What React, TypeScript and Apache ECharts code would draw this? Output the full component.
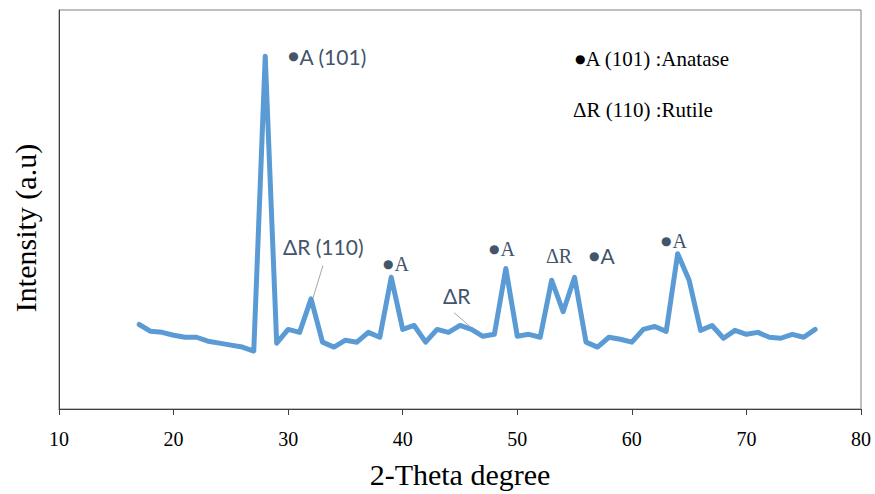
import React, { useEffect, useRef } from "react";
import * as echarts from "echarts";

// 2-theta positions (degrees)
const twoTheta = [
  17, 18, 19, 20, 21, 22, 23, 24, 25, 26, 27, 28, 29, 30, 31, 32, 33, 34, 35, 36,
  37, 38, 39, 40, 41, 42, 43, 44, 45, 46, 47, 48, 49, 50, 51, 52, 53, 54, 55, 56,
  57, 58, 59, 60, 61, 62, 63, 64, 65, 66, 67, 68, 69, 70, 71, 72, 73, 74, 75, 76,
];
// Intensity (a.u.)
const intensity = [
  86, 79, 78, 75, 73, 73, 69, 67, 65, 63, 59, 359, 67, 81, 78, 112, 68, 63, 70, 68,
  78, 73, 134, 81, 85, 68, 81, 78, 85, 81, 74, 76, 143, 74, 76, 73, 131, 99, 134, 68,
  63, 73, 71, 68, 81, 84, 79, 158, 131, 80, 85, 72, 80, 76, 78, 73, 72, 76, 73, 81,
];
const xTicks = [10, 20, 30, 40, 50, 60, 70, 80];

// peak annotations (data coordinates of the label's left/middle point)
const peakLabels = [
  { bullet: true, text: "A (101)", x: 30.0, y: 359, font: "sans" },
  { bullet: false, text: "ΔR (110)", x: 29.55, y: 165, font: "sans" },
  { bullet: true, text: "A", x: 38.28, y: 148, font: "serif" },
  { bullet: false, text: "ΔR", x: 43.52, y: 115, font: "sans" },
  { bullet: true, text: "A", x: 47.53, y: 163, font: "serif" },
  { bullet: false, text: "ΔR", x: 52.5, y: 156, font: "serif" },
  { bullet: true, text: "A", x: 56.26, y: 156, font: "sans" },
  { bullet: true, text: "A", x: 62.54, y: 171, font: "serif" },
];
const leaderLines = [
  { from: [33.04, 146], to: [32.17, 113] },
  { from: [44.48, 98], to: [45.87, 84] },
];
const legendLines = [
  { bullet: true, text: "A (101) :Anatase", x: 55.04, y: 356 },
  { bullet: false, text: "ΔR (110) :Rutile", x: 54.86, y: 304 },
];

const SERIF = "'Liberation Serif', 'Times New Roman', serif";
const SANS = "Lato, 'Open Sans', sans-serif";

export default function App() {
  const ref = useRef<HTMLDivElement>(null);
  useEffect(() => {
    if (!ref.current) return;
    const chart = echarts.init(ref.current, null, { renderer: "svg" });
    chart.setOption({
      animation: false,
      backgroundColor: "#ffffff",
      grid: {
        left: 59,
        top: 10,
        right: 14,
        bottom: 78,
        show: true,
        borderColor: "#7f7f7f",
        borderWidth: 1,
      },
      xAxis: {
        type: "value",
        min: 10,
        max: 80,
        interval: 10,
        name: "2-Theta degree",
        nameLocation: "middle",
        nameGap: 50,
        nameTextStyle: { fontFamily: SERIF, fontSize: 30, color: "#000" },
        axisLine: { show: true, onZero: false, lineStyle: { color: "#404040", width: 1 } },
        axisTick: { show: true, length: 6, inside: false, lineStyle: { color: "#404040" } },
        axisLabel: {
          fontFamily: SERIF,
          fontSize: 20,
          color: "#000",
          margin: 20,
          formatter: (v: number) => (xTicks.includes(v) ? String(v) : ""),
        },
        splitLine: { show: false },
      },
      yAxis: {
        type: "value",
        min: 0,
        max: 406,
        axisLine: { show: true, lineStyle: { color: "#404040", width: 1 } },
        axisTick: { show: false },
        axisLabel: { show: false },
        splitLine: { show: false },
      },
      series: [
        {
          type: "line",
          data: twoTheta.map((x, i) => [x, intensity[i]]),
          symbol: "none",
          lineStyle: { color: "#5B9BD5", width: 5, join: "round", cap: "round" },
          z: 3,
        },
      ],
    });

    const px = (x: number, y: number) =>
      chart.convertToPixel({ gridIndex: 0 }, [x, y]) as number[];

    const graphics: any[] = [
      {
        type: "text",
        x: 25,
        y: 228,
        rotation: Math.PI / 2,
        style: {
          text: "Intensity (a.u)",
          fontFamily: SERIF,
          fontSize: 30,
          fill: "#000",
          align: "center",
          verticalAlign: "middle",
        },
      },
    ];
    peakLabels.forEach((a) => {
      const p = px(a.x, a.y);
      const ff = a.font === "serif" ? SERIF : SANS;
      graphics.push({
        type: "text",
        x: p[0],
        y: p[1],
        style: {
          text: a.bullet ? "{b|●}{t|" + a.text + "}" : "{t|" + a.text + "}",
          verticalAlign: "middle",
          align: "left",
          rich: {
            b: { fontSize: 12, fill: "#44546A", fontFamily: "'DejaVu Sans', sans-serif", padding: [0, 1, 0, 0] },
            t: { fontSize: a.font === "serif" ? 20 : 21, fill: "#44546A", fontFamily: ff },
          },
        },
        z: 10,
      });
    });
    leaderLines.forEach((l) => {
      const a = px(l.from[0], l.from[1]);
      const b = px(l.to[0], l.to[1]);
      graphics.push({
        type: "line",
        shape: { x1: a[0], y1: a[1], x2: b[0], y2: b[1] },
        style: { stroke: "#A6A6A6", lineWidth: 1 },
        z: 10,
      });
    });
    legendLines.forEach((l) => {
      const p = px(l.x, l.y);
      graphics.push({
        type: "text",
        x: p[0],
        y: p[1],
        style: {
          text: l.bullet ? "{b|●}{t|" + l.text + "}" : "{t|" + l.text + "}",
          verticalAlign: "middle",
          align: "left",
          rich: {
            b: { fontSize: 12, fill: "#000", fontFamily: "'DejaVu Sans', sans-serif" },
            t: { fontSize: 21, fill: "#000", fontFamily: SERIF },
          },
        },
        z: 10,
      });
    });
    chart.setOption({ graphic: graphics });

    return () => chart.dispose();
  }, []);

  return (
    <div
      ref={ref}
      style={{ position: "fixed", left: 0, top: 0, width: 875, height: 494, background: "#fff" }}
    />
  );
}
